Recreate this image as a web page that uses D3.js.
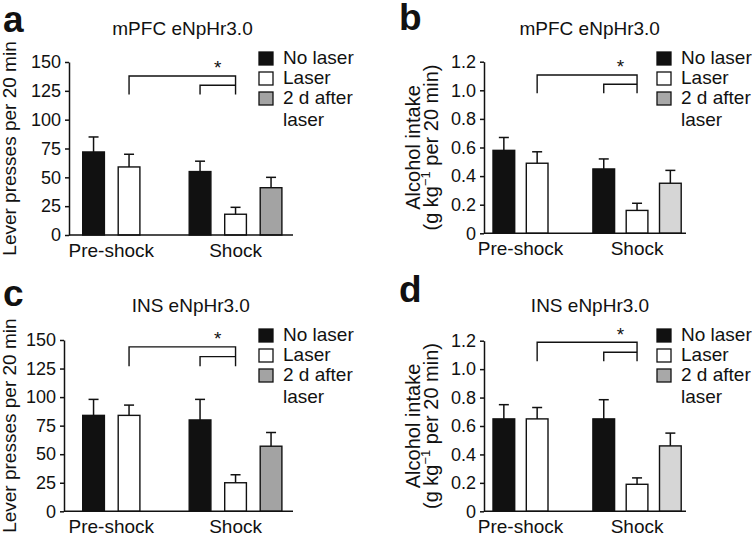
<!DOCTYPE html>
<html>
<head>
<meta charset="utf-8">
<script src="https://cdn.jsdelivr.net/npm/d3@7"></script>
<style>
  body { margin: 0; background: #fff; }
  svg { display: block; font-family: "Liberation Sans", Arial, Helvetica, sans-serif; }
</style>
</head>
<body>
<div id="chart"></div>
<script>
// values: mean and s.e.m. for every bar
const groups = ["Pre-shock", "Shock"];
const conditions = ["No laser", "Laser", "2 d after laser"];
// bar order: pre/no laser, pre/laser, shock/no laser, shock/laser, shock/2 d after
const barGroup = [0, 0, 1, 1, 1];
const barCond = [0, 1, 0, 1, 2];

const pressMpfc = [72, 59, 55, 18, 41];
const pressMpfcErr = [13, 11, 9, 6, 9];
const intakeMpfc = [0.58, 0.49, 0.45, 0.16, 0.35];
const intakeMpfcErr = [0.09, 0.08, 0.07, 0.05, 0.09];
const pressIns = [84, 84, 80, 25, 57];
const pressInsErr = [14, 9, 18, 7, 12];
const intakeIns = [0.65, 0.65, 0.65, 0.19, 0.46];
const intakeInsErr = [0.10, 0.08, 0.135, 0.045, 0.09];

const pressTicks = [0, 25, 50, 75, 100, 125, 150];
const intakeTicks = [0, 0.2, 0.4, 0.6, 0.8, 1.0, 1.2];

// significance brackets, in data units: [long bracket top, short bracket top, leg ends]
const bracketA = [137.9, 129.8, 121.8];
const bracketB = [1.107, 1.042, 0.979];
const bracketC = [144, 135.4, 127];
const bracketD = [1.189, 1.119, 1.055];

const fmtPress = d3.format("d");
const fmtIntake = d => d === 0 ? "0" : d3.format(".1f")(d);

const panels = [
  {letter: "a", title: "mPFC eNpHr3.0", values: pressMpfc, errs: pressMpfcErr, ticks: pressTicks,
   fmt: fmtPress, ylabel: ["Lever presses per 20 min"], bracket: bracketA,
   x0: 69, x1: 293, yTop: 62, yBot: 235, barStart: 82.7, step: 35.5,
   titleX: 182.5, titleY: 35, letterX: 3, letterY: 32, legX: 259, legY: 52, labX: [16],
   gray: "#a3a3a3", grayLeg: "#a3a3a3"},
  {letter: "b", title: "mPFC eNpHr3.0", values: intakeMpfc, errs: intakeMpfcErr, ticks: intakeTicks,
   fmt: fmtIntake, ylabel: ["Alcohol intake", "(g kg|−1| per 20 min)"], bracket: bracketB,
   x0: 484, x1: 686, yTop: 61.7, yBot: 233.3, barStart: 493, step: 33.3,
   titleX: 589.7, titleY: 35, letterX: 399, letterY: 30, legX: 657, legY: 52, labX: [420, 438],
   gray: "#d6d6d6", grayLeg: "#a8a8a8"},
  {letter: "c", title: "INS eNpHr3.0", values: pressIns, errs: pressInsErr, ticks: pressTicks,
   fmt: fmtPress, ylabel: ["Lever presses per 20 min"], bracket: bracketC,
   x0: 64, x1: 293, yTop: 340, yBot: 511.3, barStart: 82.7, step: 35.5,
   titleX: 190.8, titleY: 312, letterX: 3, letterY: 306, legX: 259, legY: 329, labX: [16],
   gray: "#a3a3a3", grayLeg: "#a3a3a3"},
  {letter: "d", title: "INS eNpHr3.0", values: intakeIns, errs: intakeInsErr, ticks: intakeTicks,
   fmt: fmtIntake, ylabel: ["Alcohol intake", "(g kg|−1| per 20 min)"], bracket: bracketD,
   x0: 484, x1: 686, yTop: 340.7, yBot: 511.3, barStart: 493, step: 33.3,
   titleX: 590, titleY: 312, letterX: 399, letterY: 302, legX: 657, legY: 329, labX: [420, 438],
   gray: "#d6d6d6", grayLeg: "#a8a8a8"}
];

const W = 756, H = 538;
const barW = 21.7;
const ink = "#111";

const svg = d3.select("#chart").append("svg")
  .attr("width", W)
  .attr("height", H);
svg.append("rect").attr("width", W).attr("height", H).attr("fill", "#fff");

function drawPanel(p) {
  const g = svg.append("g");
  const fills = [ink, "#fff", p.gray];
  const legFills = [ink, "#fff", p.grayLeg];

  const y = d3.scaleLinear()
    .domain([0, d3.max(p.ticks)])
    .range([p.yBot, p.yTop]);
  // slot index: two bars, a gap, then three bars
  const x = d3.scaleLinear()
    .domain([0, 1])
    .range([p.barStart, p.barStart + p.step]);
  const slot = i => i + barGroup[i];
  const cx = i => x(slot(i)) + barW / 2;

  // panel letter + title
  g.append("text")
    .attr("x", p.letterX).attr("y", p.letterY)
    .attr("font-size", 37).attr("font-weight", "bold")
    .attr("fill", ink)
    .text(p.letter);
  g.append("text")
    .attr("x", p.titleX).attr("y", p.titleY)
    .attr("text-anchor", "middle")
    .attr("font-size", 19).attr("fill", ink)
    .text(p.title);

  // bars
  g.selectAll("rect.bar")
    .data(p.values)
    .join("rect")
    .attr("class", "bar")
    .attr("x", (d, i) => x(slot(i)))
    .attr("y", d => y(d))
    .attr("width", barW)
    .attr("height", d => y(0) - y(d))
    .attr("fill", (d, i) => fills[barCond[i]])
    .attr("stroke", ink)
    .attr("stroke-width", 1.4);

  // error bars (upper half only)
  const eb = g.selectAll("g.err")
    .data(p.values)
    .join("g")
    .attr("class", "err")
    .attr("stroke", ink)
    .attr("stroke-width", 1.5);
  eb.append("line")
    .attr("x1", (d, i) => cx(i)).attr("x2", (d, i) => cx(i))
    .attr("y1", d => y(d))
    .attr("y2", (d, i) => y(d + p.errs[i]));
  eb.append("line")
    .attr("x1", (d, i) => cx(i) - 5).attr("x2", (d, i) => cx(i) + 5)
    .attr("y1", (d, i) => y(d + p.errs[i]))
    .attr("y2", (d, i) => y(d + p.errs[i]));

  // y axis
  const yAxis = g.append("g")
    .attr("transform", `translate(${p.x0},0)`)
    .call(d3.axisLeft(y).tickValues(p.ticks).tickFormat(p.fmt)
      .tickSize(4).tickSizeOuter(0).tickPadding(4));
  yAxis.attr("font-size", 18).attr("font-family", null);
  yAxis.selectAll("path, line").attr("stroke", ink).attr("stroke-width", 1.5);
  yAxis.selectAll("text").attr("fill", ink);

  // x axis baseline
  g.append("line")
    .attr("x1", p.x0).attr("x2", p.x1)
    .attr("y1", y(0)).attr("y2", y(0))
    .attr("stroke", ink).attr("stroke-width", 1.5);

  // group labels
  const groupCenter = gi => d3.mean(barGroup.map((bg, i) => bg === gi ? cx(i) : null).filter(v => v !== null));
  g.selectAll("text.grp")
    .data(groups)
    .join("text")
    .attr("class", "grp")
    .attr("x", (d, gi) => gi === 0 ? groupCenter(0) : cx(3))
    .attr("y", y(0) + 22)
    .attr("text-anchor", "middle")
    .attr("font-size", 19).attr("fill", ink)
    .text(d => d);

  // y label
  const midY = (p.yTop + p.yBot) / 2;
  p.ylabel.forEach((line, li) => {
    const t = g.append("text")
      .attr("transform", `translate(${p.labX[li]},${midY}) rotate(-90)`)
      .attr("text-anchor", "middle")
      .attr("font-size", p.ylabel.length > 1 ? 20 : 19)
      .attr("fill", ink);
    const parts = line.split("|");
    parts.forEach((s, k) => {
      const sp = t.append("tspan").text(s);
      if (k === 1) sp.attr("font-size", 13).attr("dy", -8);
      if (k === 2) sp.attr("dy", 8);
    });
  });

  // significance brackets
  const [top, shortTop, legEnd] = p.bracket;
  const br = g.append("g").attr("fill", "none").attr("stroke", ink).attr("stroke-width", 1.4);
  br.append("path")
    .attr("d", `M${cx(1)},${y(legEnd)}V${y(top)}H${cx(3)}V${y(legEnd)}`);
  br.append("path")
    .attr("d", `M${cx(2)},${y(legEnd)}V${y(shortTop)}H${cx(3)}`);
  g.append("text")
    .attr("x", (cx(2) + cx(3)) / 2)
    .attr("y", y(top) - 1.5)
    .attr("text-anchor", "middle")
    .attr("font-size", 19).attr("fill", ink)
    .text("*");

  // legend
  const leg = g.append("g").attr("transform", `translate(${p.legX},${p.legY})`);
  conditions.forEach((c, ci) => {
    const row = leg.append("g").attr("transform", `translate(0,${ci * 20})`);
    row.append("rect")
      .attr("width", 14).attr("height", 13)
      .attr("fill", legFills[ci])
      .attr("stroke", ink).attr("stroke-width", 1.3);
    const words = c === "2 d after laser" ? ["2 d after", "laser"] : [c];
    words.forEach((w, wi) => {
      row.append("text")
        .attr("x", 24)
        .attr("y", 12 + wi * 22)
        .attr("font-size", 19).attr("fill", ink)
        .text(w);
    });
  });
}

panels.forEach(drawPanel);
</script>
</body>
</html>
